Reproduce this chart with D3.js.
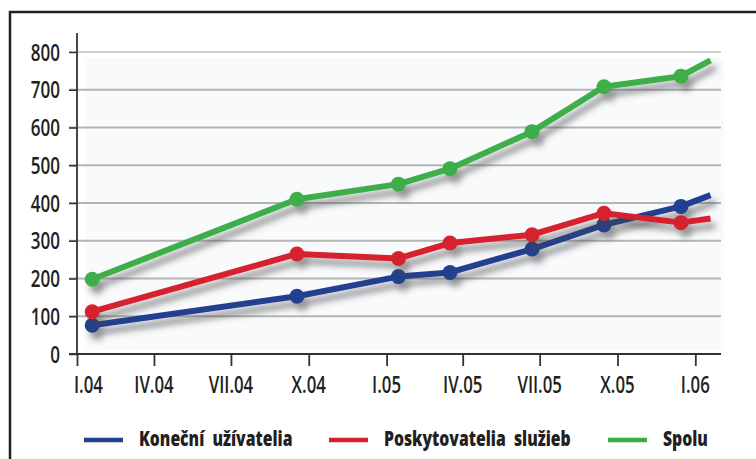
<!DOCTYPE html>
<html>
<head>
<meta charset="utf-8">
<script src="https://cdn.jsdelivr.net/npm/d3@7"></script>
<style>
  html, body { margin: 0; padding: 0; background: #fff; }
  svg { display: block; }
  text { font-family: "Open Sans", "Noto Sans", sans-serif; fill: #231f20; }
</style>
</head>
<body>
<svg id="chart" width="756" height="459"></svg>
<script>
// ---- data ----
const dates = ["2004-01-19", "2004-09-17", "2005-01-15", "2005-03-17", "2005-06-22", "2005-09-15", "2005-12-15", "2006-01-19"];
const konecni = [76, 153, 205, 216, 278, 342, 391, 421];
const poskytovatelia = [112, 265, 253, 294, 316, 373, 348, 359];
const spolu = [198, 410, 450, 491, 589, 708, 736, 778];
const seriesNames = ["Koneční  užívatelia", "Poskytovatelia  služieb", "Spolu"];
const yTicks = [0, 100, 200, 300, 400, 500, 600, 700, 800];
const xTickDates = ["2004-01-01", "2004-04-01", "2004-07-01", "2004-10-01", "2005-01-01", "2005-04-01", "2005-07-01", "2005-10-01", "2006-01-01"];
const xTickLabels = ["I.04", "IV.04", "VII.04", "X.04", "I.05", "IV.05", "VII.05", "X.05", "I.06"];

const colors = ["#233f8f", "#d5222f", "#3cae48"];
const parse = d3.utcParse("%Y-%m-%d");

const svg = d3.select("#chart");

// shadow filter
const defs = svg.append("defs");
const f = defs.append("filter").attr("id", "shadow").attr("x", "-10%").attr("y", "-20%").attr("width", "130%").attr("height", "160%");
f.append("feGaussianBlur").attr("in", "SourceAlpha").attr("stdDeviation", 3).attr("result", "blur");
f.append("feOffset").attr("in", "blur").attr("dx", 5).attr("dy", 7).attr("result", "off");
f.append("feFlood").attr("flood-color", "#444").attr("flood-opacity", 0.55).attr("result", "col");
f.append("feComposite").attr("in", "col").attr("in2", "off").attr("operator", "in").attr("result", "sh");
const m = f.append("feMerge");
m.append("feMergeNode").attr("in", "sh");
m.append("feMergeNode").attr("in", "SourceGraphic");

// frame
svg.append("rect").attr("x", 10).attr("y", 12).attr("width", 800).attr("height", 500)
  .attr("fill", "none").attr("stroke", "#222").attr("stroke-width", 2.5);

// scales
const x = d3.scaleUtc().domain([parse("2004-01-01"), parse("2006-01-01")]).range([77, 695.3]);
const y = d3.scaleLinear().domain([0, 800]).range([354, 52]);

// plot background
svg.append("rect").attr("x", 85).attr("y", 58).attr("width", 639).attr("height", 292).attr("fill", "#f9fafc");

// gridlines
svg.append("g").selectAll("line").data(yTicks.filter(d => d > 0)).join("line")
  .attr("x1", 69).attr("x2", 721)
  .attr("y1", d => y(d)).attr("y2", d => y(d))
  .attr("stroke", d => d === 800 ? "#cfcfcf" : "#b4b4b4").attr("stroke-width", 1.8);

// y axis ticks (via d3 axis) with custom condensed labels
const yAxis = d3.axisLeft(y).tickValues(yTicks).tickSize(8).tickFormat("");
const gy = svg.append("g").attr("transform", "translate(77,0)").call(yAxis);
gy.select(".domain").remove();
gy.selectAll(".tick line").attr("stroke", "#333").attr("stroke-width", 1.5);
svg.append("g").selectAll("text").data(yTicks).join("text")
  .attr("transform", d => `translate(60,${y(d)}) scale(0.71,1)`)
  .attr("text-anchor", "end").attr("dy", "0.36em")
  .style("font-size", "24px").style("font-weight", 600)
  .text(d => d3.format("d")(d));
svg.append("line").attr("x1", 77).attr("x2", 77).attr("y1", 33).attr("y2", 354).attr("stroke", "#333").attr("stroke-width", 1.8);

// x axis
const xAxis = d3.axisBottom(x).tickValues(xTickDates.map(parse)).tickSize(12).tickFormat("");
const gx = svg.append("g").attr("transform", "translate(0,354)").call(xAxis);
gx.select(".domain").remove();
gx.selectAll(".tick line").attr("stroke", "#333").attr("stroke-width", 1.8);
svg.append("g").selectAll("text").data(xTickDates).join("text")
  .attr("transform", (d, i) => `translate(${i === 0 ? x(parse(d)) - 3 : x(parse(d))},393) scale(0.70,1)`)
  .attr("text-anchor", (d, i) => i === 0 ? "start" : "middle")
  .style("font-size", "24px").style("font-weight", 600)
  .text((d, i) => xTickLabels[i]);
svg.append("line").attr("x1", 69).attr("x2", 721).attr("y1", 354).attr("y2", 354).attr("stroke", "#333").attr("stroke-width", 1.8);

// series
const series = [konecni, poskytovatelia, spolu];
const line = d3.line().x(d => x(d.date)).y(d => y(d.v));
series.forEach((vals, si) => {
  const pts = vals.map((v, i) => ({ date: parse(dates[i]), v }));
  const g = svg.append("g").attr("filter", "url(#shadow)");
  g.append("path").datum(pts).attr("d", line).attr("fill", "none")
    .attr("stroke", colors[si]).attr("stroke-width", 6).attr("stroke-linejoin", "round");
  g.selectAll("circle").data(pts.slice(0, pts.length - 1)).join("circle")
    .attr("cx", d => x(d.date)).attr("cy", d => y(d.v)).attr("r", 7.5).attr("fill", colors[si]);
});

// legend
const legendX = [84, 329, 608];
const lg = svg.append("g");
seriesNames.forEach((name, i) => {
  lg.append("line").attr("x1", legendX[i]).attr("x2", legendX[i] + 39).attr("y1", 440).attr("y2", 440)
    .attr("stroke", colors[i]).attr("stroke-width", 4.5);
  lg.append("text").attr("transform", `translate(${legendX[i] + 55},446) scale(0.75,1)`)
    .style("font-size", "21px").style("font-weight", 800)
    .attr("xml:space", "preserve").style("white-space", "pre").text(name);
});
</script>
</body>
</html>
